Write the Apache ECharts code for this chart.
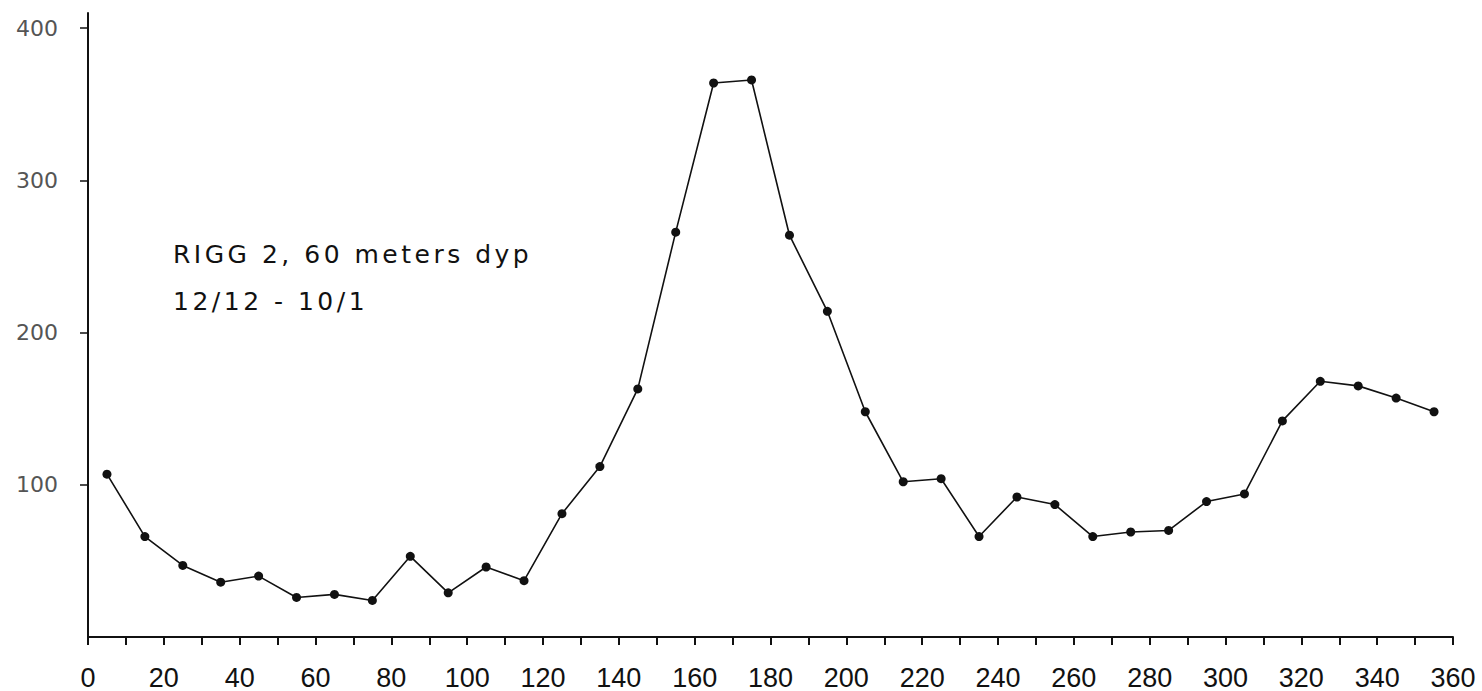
<!DOCTYPE html>
<html>
<head>
<meta charset="utf-8">
<script src="https://cdn.jsdelivr.net/npm/echarts@6/dist/echarts.min.js"></script>
<style>
html,body{margin:0;padding:0;background:#fff;}
#chart{width:1482px;height:691px;}
</style>
</head>
<body>
<div id="chart"></div>
<script>
// Direction bins (degrees, bin centres) and measured values
var directions = [5,15,25,35,45,55,65,75,85,95,105,115,125,135,145,155,165,175,185,195,205,215,225,235,245,255,265,275,285,295,305,315,325,335,345,355];
var values = [107,66,47,36,40,26,28,24,53,29,46,37,81,112,163,266,364,366,264,214,148,102,104,66,92,87,66,69,70,89,94,142,168,165,157,148];
var xTickValues = [0,10,20,30,40,50,60,70,80,90,100,110,120,130,140,150,160,170,180,190,200,210,220,230,240,250,260,270,280,290,300,310,320,330,340,350,360];
var xLabelValues = [0,20,40,60,80,100,120,140,160,180,200,220,240,260,280,300,320,340,360];
var yTickValues = [100,200,300,400];
var noteLines = ['RIGG 2, 60 meters dyp', '12/12 - 10/1'];

var chart = echarts.init(document.getElementById('chart'), null, {renderer: 'svg'});
var points = directions.map(function (d, i) { return [d, values[i]]; });

chart.setOption({
  animation: false,
  backgroundColor: '#fff',
  grid: {left: 88, right: 29, top: 13, bottom: 53},
  xAxis: {
    type: 'value', min: 0, max: 360, interval: 10,
    axisLine: {show: true, lineStyle: {color: '#111', width: 2}},
    axisTick: {show: true, length: 8, inside: false, lineStyle: {color: '#111', width: 2}, customValues: xTickValues},
    axisLabel: {customValues: xLabelValues, margin: 27, fontSize: 27, color: '#111', fontFamily: 'Liberation Sans'},
    splitLine: {show: false}
  },
  yAxis: {
    type: 'value', min: 0, max: 410, interval: 100,
    axisLine: {show: true, lineStyle: {color: '#111', width: 2}},
    axisTick: {show: true, length: 8, lineStyle: {color: '#111', width: 1.5}, customValues: yTickValues},
    axisLabel: {customValues: yTickValues, margin: 30, fontSize: 22, color: '#555', fontFamily: 'DejaVu Sans'},
    splitLine: {show: false}
  },
  graphic: [
    {type: 'text', left: 173, top: 242, style: {text: noteLines[0], fontSize: 25, fontFamily: 'DejaVu Sans', fill: '#111'}},
    {type: 'text', left: 173, top: 289, style: {text: noteLines[1], fontSize: 25, fontFamily: 'DejaVu Sans', fill: '#111'}}
  ],
  series: [{
    type: 'line',
    data: points,
    symbol: 'circle',
    symbolSize: 9,
    showSymbol: true,
    itemStyle: {color: '#111'},
    lineStyle: {color: '#111', width: 1.6}
  }]
});

function spaceNotes() {
  var texts = chart.getDom().querySelectorAll('text');
  texts.forEach(function (t) {
    if (noteLines.indexOf(t.textContent) >= 0) {
      t.style.letterSpacing = '3.5px';
    }
  });
}
chart.on('finished', spaceNotes);
setTimeout(spaceNotes, 50);
</script>
</body>
</html>
